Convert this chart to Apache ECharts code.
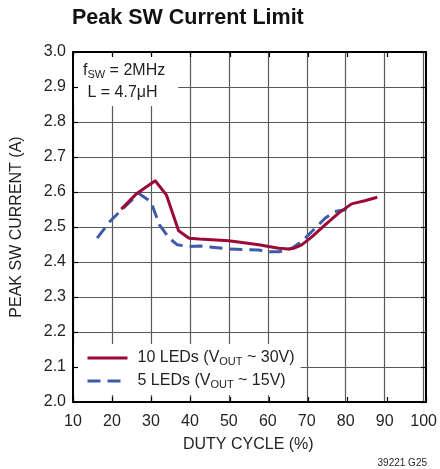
<!DOCTYPE html>
<html>
<head>
<meta charset="utf-8">
<script src="https://cdn.jsdelivr.net/npm/echarts@6/dist/echarts.min.js"></script>
<style>html,body{margin:0;padding:0;background:#fff;}#c{width:440px;height:469px;}</style>
</head>
<body>
<div id="c"></div>
<script>
// ---- data ----
var xTicks = [10, 20, 30, 40, 50, 60, 70, 80, 90, 100];
var yTicks = [2.0, 2.1, 2.2, 2.3, 2.4, 2.5, 2.6, 2.7, 2.8, 2.9, 3.0];

var led10Duty = [22.4, 26.2, 31.1, 34.0, 37.1, 39.8, 42.4, 50.0, 57.7, 60.2, 62.8, 65.3, 66.6, 68.7, 71.3, 74.7, 78.1, 81.5, 84.9, 88.1];
var led10Amps = [2.551, 2.594, 2.632, 2.591, 2.489, 2.468, 2.466, 2.461, 2.449, 2.444, 2.439, 2.437, 2.439, 2.449, 2.472, 2.506, 2.539, 2.566, 2.575, 2.585];

var led5Duty = [16.2, 19.4, 22.8, 26.9, 30.0, 32.2, 34.7, 36.8, 39.8, 42.4, 50.0, 57.7, 60.2, 62.8, 64.5, 66.2, 68.7, 71.3, 74.7, 77.2, 80.2];
var led5Amps = [2.468, 2.515, 2.553, 2.596, 2.572, 2.506, 2.468, 2.449, 2.444, 2.446, 2.437, 2.434, 2.429, 2.429, 2.434, 2.439, 2.458, 2.487, 2.525, 2.544, 2.550];

var seriesNames = ['10 LEDs', '5 LEDs'];
var legendRich = {
  '10 LEDs': '{a|10 LEDs (V}{s|OUT}{t| ~ 30V)}',
  '5 LEDs': '{a|5 LEDs (V}{s|OUT}{t| ~ 15V)}'
};

function pairs(xs, ys) { return xs.map(function (x, i) { return [x, ys[i]]; }); }

var FONT = '"Liberation Sans", Arial, sans-serif';
var TXT = '#231f20';
var RED = '#9b0a36';
var BLUE = '#3d5ba9';

var gridPos = { left: 73, right: 14, top: 52, bottom: 67 };

var chart = echarts.init(document.getElementById('c'), null, { renderer: 'canvas' });
chart.setOption({
  backgroundColor: '#fff',
  animation: false,
  title: [
    {
      text: 'Peak SW Current Limit',
      left: 72, top: 7, padding: 0,
      textStyle: { fontFamily: FONT, fontWeight: 'bold', fontSize: 21.5, color: '#111' }
    },
    {
      text: '{f|f}{s|SW}{f| = 2MHz}\n{f| L = 4.7μH}',
      left: 74, top: 53,
      padding: [7, 13, 5, 9],
      backgroundColor: '#fff',
      z: 5,
      textStyle: {
        fontWeight: 'normal',
        rich: {
          f: { fontFamily: FONT, fontWeight: 'normal', fontSize: 16, color: TXT, lineHeight: 22 },
          s: { fontFamily: FONT, fontWeight: 'normal', fontSize: 11, color: TXT, lineHeight: 22, padding: [7, 0, 0, 0] }
        }
      }
    }
  ],
  legend: {
    data: seriesNames,
    orient: 'vertical',
    left: 74, top: 344,
    padding: [5, 6, 5, 12],
    backgroundColor: '#fff',
    itemWidth: 40, itemHeight: 14, itemGap: 5,
    itemStyle: { opacity: 0 },
    lineStyle: { width: 3 },
    z: 5,
    formatter: function (n) { return legendRich[n]; },
    textStyle: {
      rich: {
        a: { fontFamily: FONT, fontSize: 16, color: TXT, lineHeight: 18, padding: [0, 0, 0, 5] },
        t: { fontFamily: FONT, fontSize: 16, color: TXT, lineHeight: 18 },
        s: { fontFamily: FONT, fontSize: 11, color: TXT, lineHeight: 18, padding: [7, 0, 0, 0] }
      }
    }
  },
  grid: [
    Object.assign({}, gridPos),
    Object.assign({}, gridPos)
  ],
  xAxis: [
    {
      gridIndex: 0, type: 'value', min: 10, max: 100, interval: 10,
      name: 'DUTY CYCLE (%)', nameLocation: 'middle', nameGap: 35,
      nameTextStyle: { fontFamily: FONT, fontSize: 16, color: TXT },
      axisLine: { show: false }, axisTick: { show: false },
      axisLabel: { margin: 12, fontFamily: FONT, fontSize: 16, color: TXT,
        formatter: function (v) { return xTicks.indexOf(v) >= 0 ? String(v) : ''; } },
      splitLine: { show: true, lineStyle: { color: '#5a5a5a', width: 1.2 } }
    },
    {
      gridIndex: 1, type: 'value', min: 10, max: 100, interval: 10, position: 'bottom', z: 10,
      axisLine: { show: true, lineStyle: { color: '#000', width: 2 } },
      axisTick: { show: true, inside: true, length: 5, lineStyle: { color: '#000', width: 1.2 } },
      axisLabel: { show: false }, splitLine: { show: false }
    },
    {
      gridIndex: 1, type: 'value', min: 10, max: 100, interval: 10, position: 'top', z: 10,
      axisLine: { show: true, lineStyle: { color: '#000', width: 2 } },
      axisTick: { show: true, inside: true, length: 5, lineStyle: { color: '#000', width: 1.2 } },
      axisLabel: { show: false }, splitLine: { show: false }
    }
  ],
  yAxis: [
    {
      gridIndex: 0, type: 'value', min: 2.0, max: 3.0, interval: 0.1,
      name: 'PEAK SW CURRENT (A)', nameLocation: 'middle', nameGap: 48, nameRotate: 90,
      nameTextStyle: { fontFamily: FONT, fontSize: 16, color: TXT },
      axisLine: { show: false }, axisTick: { show: false },
      axisLabel: { margin: 7, fontFamily: FONT, fontSize: 16, color: TXT,
        formatter: function (v) {
          var hit = yTicks.filter(function (t) { return Math.abs(t - v) < 1e-6; });
          return hit.length ? hit[0].toFixed(1) : '';
        } },
      splitLine: { show: true, lineStyle: { color: '#5a5a5a', width: 1.2 } }
    },
    {
      gridIndex: 1, type: 'value', min: 2.0, max: 3.0, interval: 0.1, position: 'left', z: 10,
      axisLine: { show: true, lineStyle: { color: '#000', width: 2 } },
      axisTick: { show: true, inside: true, length: 5, lineStyle: { color: '#000', width: 1.2 } },
      axisLabel: { show: false }, splitLine: { show: false }
    },
    {
      gridIndex: 1, type: 'value', min: 2.0, max: 3.0, interval: 0.1, position: 'right', z: 10,
      axisLine: { show: true, lineStyle: { color: '#000', width: 2 } },
      axisTick: { show: true, inside: true, length: 5, lineStyle: { color: '#000', width: 1.2 } },
      axisLabel: { show: false }, splitLine: { show: false }
    }
  ],
  graphic: [
    {
      type: 'text', right: 13, top: 458, z: 10,
      style: { text: '39221 G25', fontFamily: FONT, fontSize: 10, fill: TXT }
    }
  ],
  series: [
    {
      name: '5 LEDs', type: 'line', xAxisIndex: 0, yAxisIndex: 0,
      data: pairs(led5Duty, led5Amps), showSymbol: false, symbol: 'none',
      lineStyle: { color: BLUE, width: 3, type: [13, 7] },
      itemStyle: { color: BLUE }, z: 2
    },
    {
      name: '10 LEDs', type: 'line', xAxisIndex: 0, yAxisIndex: 0,
      data: pairs(led10Duty, led10Amps), showSymbol: false, symbol: 'none',
      lineStyle: { color: RED, width: 3 },
      itemStyle: { color: RED }, z: 3
    }
  ]
});
</script>
</body>
</html>
